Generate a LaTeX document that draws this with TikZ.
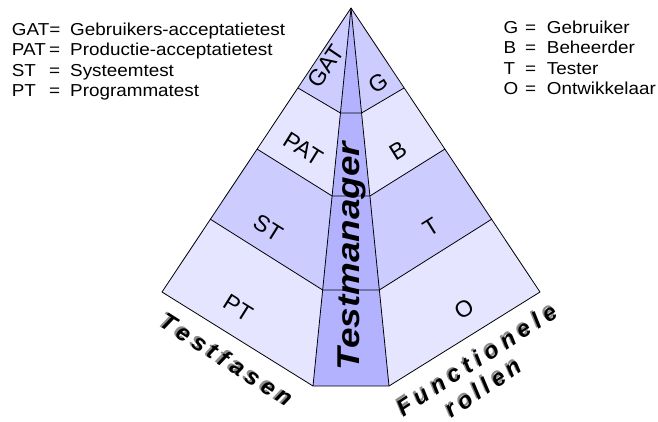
\documentclass[tikz,border=0pt]{standalone}
\usepackage{fontspec}
\setmainfont{Liberation Sans}
\begin{document}
\begin{tikzpicture}[x=1pt,y=-1pt,
  lineblk/.style={draw=black,line width=0.8pt,line join=round},
  legend/.style={font=\fontsize{17.3}{20}\selectfont,anchor=base west,inner sep=0pt,xscale=1.09},
  facelabel/.style={font=\fontsize{23}{25}\selectfont,inner sep=0pt},
  axislabel/.style={font=\fontsize{23.5}{25}\selectfont\bfseries\itshape,inner sep=0pt},
  shadowtxt/.style={axislabel,text=black!45}]
\definecolor{bandmid}{RGB}{204,204,255}
\definecolor{bandlight}{RGB}{229,229,255}
\definecolor{stripcol}{RGB}{178,178,255}
\newcommand{\ls}{\hspace{5.4pt}}
\newcommand{\lt}{\hspace{4.6pt}}
\useasboundingbox (0,0) rectangle (658,421);

% pyramid outline points
\coordinate (A) at (351,8);
\coordinate (L) at (162,292);
\coordinate (R) at (540,292);
\coordinate (SL) at (313,386);
\coordinate (SR) at (389,386);
% band boundaries on the left face
\coordinate (l1) at (298,88);
\coordinate (l2) at (257,149);
\coordinate (l3) at (210,219);
\coordinate (s1) at (340.4,113);
\coordinate (s2) at (332.1,196);
\coordinate (s3) at (322.7,290);
% band boundaries on the right face
\coordinate (r1) at (404,88);
\coordinate (r2) at (445,149);
\coordinate (r3) at (492,219);
\coordinate (t1) at (361.6,113);
\coordinate (t2) at (369.9,196);
\coordinate (t3) at (379.3,290);

% left face: test phases
\fill[bandmid] (A) -- (l1) -- (s1) -- cycle;
\fill[bandlight] (l1) -- (l2) -- (s2) -- (s1) -- cycle;
\fill[bandmid] (l2) -- (l3) -- (s3) -- (s2) -- cycle;
\fill[bandlight] (l3) -- (L) -- (SL) -- (s3) -- cycle;
% right face: functional roles
\fill[bandmid] (A) -- (r1) -- (t1) -- cycle;
\fill[bandlight] (r1) -- (r2) -- (t2) -- (t1) -- cycle;
\fill[bandmid] (r2) -- (r3) -- (t3) -- (t2) -- cycle;
\fill[bandlight] (r3) -- (R) -- (SR) -- (t3) -- cycle;
% central strip
\fill[stripcol] (A) -- (SL) -- (SR) -- cycle;

% outlines
\draw[lineblk] (A) -- (L) -- (SL) -- (SR) -- (R) -- cycle;
\draw[lineblk] (A) -- (SL);
\draw[lineblk] (A) -- (SR);
\draw[lineblk] (l1) -- (s1) -- (t1) -- (r1);
\draw[lineblk] (l2) -- (s2) -- (t2) -- (r2);
\draw[lineblk] (l3) -- (s3) -- (t3) -- (r3);

% face labels
\node[facelabel,rotate=56] (gat) at (326,66) {GAT};
\node[facelabel,rotate=-32] (pat) at (303,149) {PAT};
\node[facelabel,rotate=-32] (st) at (268,228) {ST};
\node[facelabel,rotate=-32] (pt) at (238,308) {PT};
\node[facelabel,rotate=32] (g) at (378,83) {G};
\node[facelabel,rotate=32] (b) at (398,151) {B};
\node[facelabel,rotate=32] (t) at (431,227) {T};
\node[facelabel,rotate=32] (o) at (464,309) {O};

% strip label
\node[font=\fontsize{31.5}{33}\selectfont\bfseries\itshape,inner sep=0pt,rotate=90,xscale=1.17] (tm) at (352,256) {Testmanager};

% axis labels with drop shadow
\node[shadowtxt,rotate=-32.5] (tfs) at (225,358) {T\ls e\ls s\ls t\ls f\ls a\ls s\ls e\ls n};
\node[axislabel,rotate=-32.5] (tf) at (227,359.5) {T\ls e\ls s\ls t\ls f\ls a\ls s\ls e\ls n};
\node[shadowtxt,rotate=33] (fus) at (474.5,358) {F\ls u\ls n\ls c\ls t\ls i\ls o\ls n\ls e\ls l\ls e};
\node[axislabel,rotate=33] (fu) at (476.5,359.5) {F\ls u\ls n\ls c\ls t\ls i\ls o\ls n\ls e\ls l\ls e};
\node[shadowtxt,rotate=34] (ros) at (481,386) {r\lt o\lt l\lt l\lt e\lt n};
\node[axislabel,rotate=34] (ro) at (483,387.5) {r\lt o\lt l\lt l\lt e\lt n};

% legend: test phases
\node[legend] (k1) at (11.7,35) {GAT=};
\node[legend] (k2) at (11.7,55.5) {PAT};
\node[legend] (k3) at (11.7,76) {ST};
\node[legend] (k4) at (11.7,96.5) {PT};
\node[legend] (e2) at (49,55.5) {=};
\node[legend] (e3) at (49,76) {=};
\node[legend] (e4) at (49,96.5) {=};
\node[legend] (d1) at (70,35) {Gebruikers-acceptatietest};
\node[legend] (d2) at (70,55.5) {Productie-acceptatietest};
\node[legend] (d3) at (70,76) {Systeemtest};
\node[legend] (d4) at (70,96.5) {Programmatest};
% legend: roles
\node[legend] (m1) at (503.3,33.3) {G};
\node[legend] (m2) at (503.3,53.6) {B};
\node[legend] (m3) at (503.3,74) {T};
\node[legend] (m4) at (503.3,94.3) {O};
\node[legend] (q1) at (525,33.3) {=};
\node[legend] (q2) at (525,53.6) {=};
\node[legend] (q3) at (525,74) {=};
\node[legend] (q4) at (525,94.3) {=};
\node[legend] (n1) at (546.7,33.3) {Gebruiker};
\node[legend] (n2) at (546.7,53.6) {Beheerder};
\node[legend] (n3) at (546.7,74) {Tester};
\node[legend] (n4) at (546.7,94.3) {Ontwikkelaar};
\end{tikzpicture}
\end{document}
